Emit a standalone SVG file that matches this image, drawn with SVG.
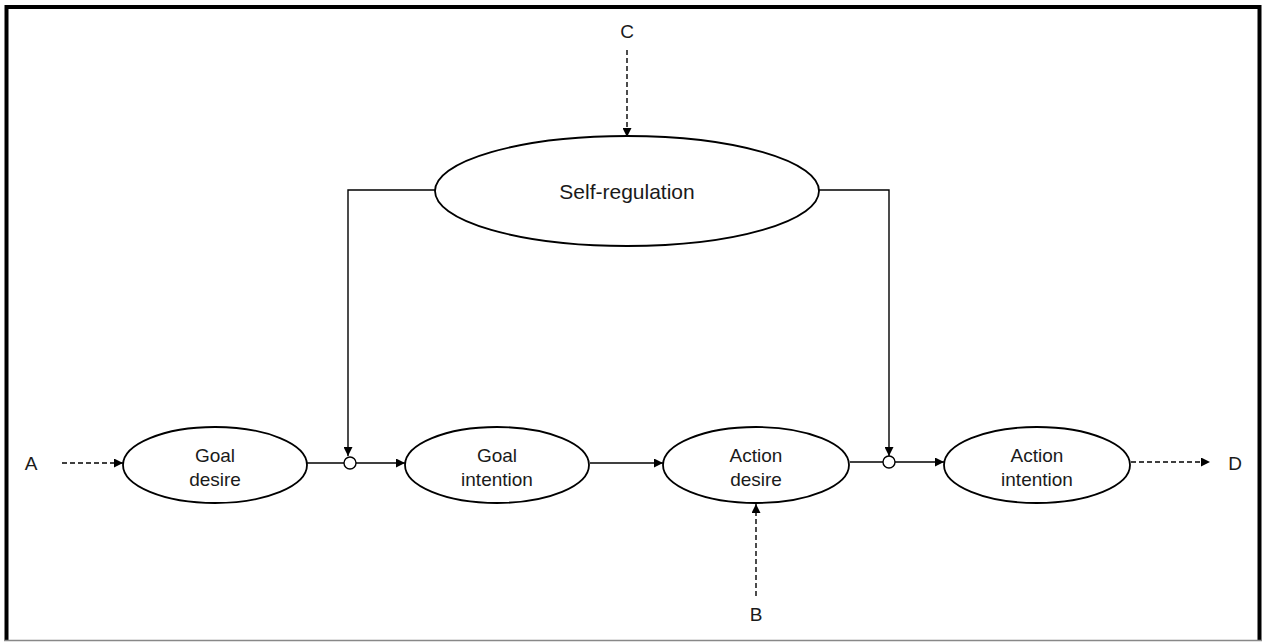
<svg xmlns="http://www.w3.org/2000/svg" width="1262" height="642" viewBox="0 0 1262 642">
  <defs>
    <marker id="arrow" viewBox="0 0 10 10" refX="10" refY="5" markerWidth="10" markerHeight="9" markerUnits="userSpaceOnUse" orient="auto">
      <path d="M0,0 L10,5 L0,10 Z" fill="#000"/>
    </marker>
  </defs>
  <style>
    .node { fill: #fff; stroke: #000; stroke-width: 1.8; }
    .label { font-family: "Liberation Sans", Arial, sans-serif; font-size: 19px; fill: #1a1a1a; text-anchor: middle; }
    .big { font-size: 21px; }
    .line { fill: none; stroke: #000; stroke-width: 1.4; }
    .dash { fill: none; stroke: #000; stroke-width: 1.4; stroke-dasharray: 5 3; }
    .junction { fill: #fff; stroke: #000; stroke-width: 1.4; }
  </style>

  <rect width="1262" height="642" fill="#fff"/>

  <!-- frame -->
  <path d="M6.5,641 V7 H1259.5 V641" fill="none" stroke="#000" stroke-width="4"/>
  <line x1="4" y1="640.5" x2="1262" y2="640.5" stroke="#888" stroke-width="1.5"/>

  <!-- connectors -->
  <g id="connectors">
    <line class="dash" x1="62" y1="463" x2="123" y2="463" marker-end="url(#arrow)"/>
    <line class="line" x1="307" y1="463" x2="344" y2="463"/>
    <line class="line" x1="356" y1="463" x2="405" y2="463" marker-end="url(#arrow)"/>
    <line class="line" x1="590" y1="463" x2="663" y2="463" marker-end="url(#arrow)"/>
    <line class="line" x1="850" y1="462" x2="883" y2="462" stroke-width="2.2"/>
    <line class="line" x1="895" y1="462" x2="944" y2="462" stroke-width="2.2" marker-end="url(#arrow)"/>
    <line class="dash" x1="1131" y1="462" x2="1210" y2="462" marker-end="url(#arrow)"/>
    <path class="line" d="M435,190 H348 V456" marker-end="url(#arrow)"/>
    <path class="line" d="M819,190 H889 V456" marker-end="url(#arrow)"/>
    <line class="dash" x1="627" y1="50" x2="627" y2="137" marker-end="url(#arrow)"/>
    <line class="dash" x1="756" y1="596" x2="756" y2="504" marker-end="url(#arrow)"/>
    <circle class="junction" cx="350" cy="463" r="6"/>
    <circle class="junction" cx="889" cy="462" r="6"/>
  </g>

  <g id="self-regulation">
    <ellipse class="node" cx="627" cy="191" rx="192" ry="55"/>
    <text class="label big" x="627" y="199">Self-regulation</text>
  </g>

  <g id="goal-desire">
    <ellipse class="node" cx="215" cy="465" rx="92" ry="38"/>
    <text class="label" x="215" y="462">Goal</text>
    <text class="label" x="215" y="486">desire</text>
  </g>

  <g id="goal-intention">
    <ellipse class="node" cx="497" cy="465" rx="92" ry="38"/>
    <text class="label" x="497" y="462">Goal</text>
    <text class="label" x="497" y="486">intention</text>
  </g>

  <g id="action-desire">
    <ellipse class="node" cx="756" cy="465" rx="93" ry="38"/>
    <text class="label" x="756" y="462">Action</text>
    <text class="label" x="756" y="486">desire</text>
  </g>

  <g id="action-intention">
    <ellipse class="node" cx="1037" cy="465" rx="93" ry="38"/>
    <text class="label" x="1037" y="462">Action</text>
    <text class="label" x="1037" y="486">intention</text>
  </g>

  <g id="input-a"><text class="label" x="31" y="470">A</text></g>
  <g id="input-b"><text class="label" x="756" y="621">B</text></g>
  <g id="input-c"><text class="label" x="627" y="38">C</text></g>
  <g id="output-d"><text class="label" x="1235" y="470">D</text></g>
</svg>
